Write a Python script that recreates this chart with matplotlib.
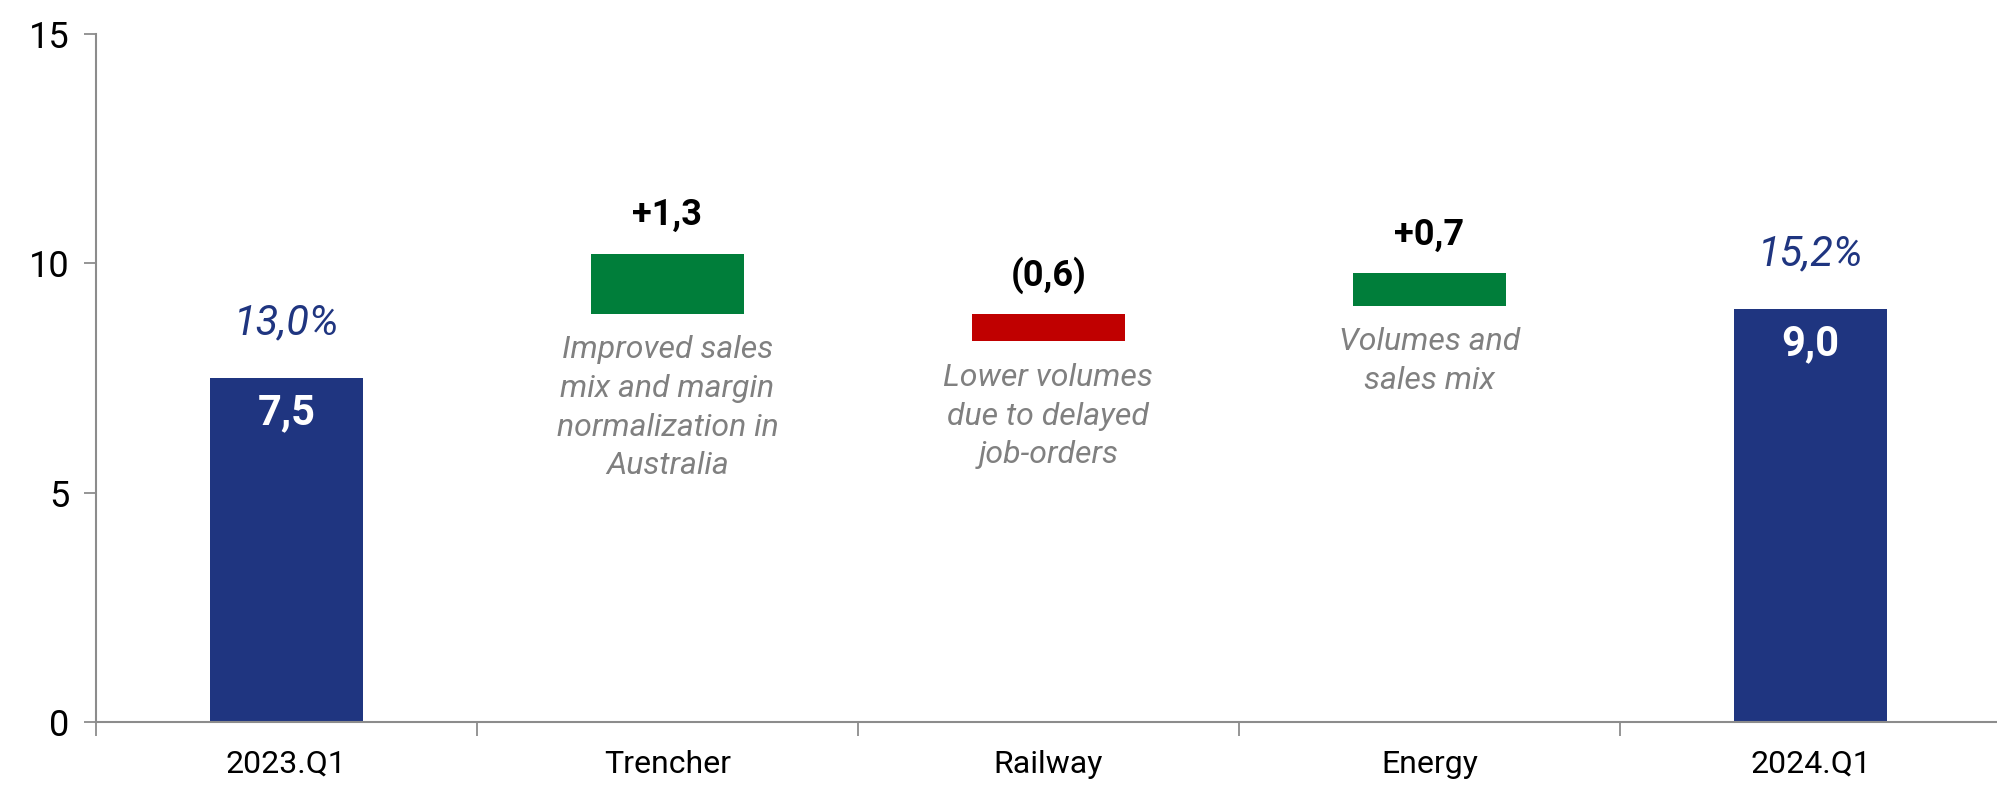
import numpy as np
import matplotlib
matplotlib.use("Agg")
import matplotlib.pyplot as plt

# EBITDA bridge, Q1 2023 -> Q1 2024
categories = ["2023.Q1", "Trencher", "Railway", "Energy", "2024.Q1"]
totals = [7.5, 9.0]
margins = ["13,0%", "15,2%"]
deltas = [1.3, -0.6, 0.7]
delta_base = [8.9, 8.9, 9.08]   # where each floating bar starts
delta_labels = ["+1,3", "(0,6)", "+0,7"]
notes = ["Improved sales\nmix and margin\nnormalization in\nAustralia",
         "Lower volumes\ndue to delayed\njob-orders",
         "Volumes and\nsales mix"]
yticks = [0, 5, 10, 15]

NAVY = "#1F3580"
GREEN = "#007E3A"
RED = "#C00000"
GREY_TXT = "#808080"
AXIS = "#8C8C8C"

plt.rcParams["font.family"] = ["Roboto", "DejaVu Sans"]

fig = plt.figure(figsize=(19.97, 7.86), dpi=100)
ax = fig.add_axes([0.048, 0.0814, 0.954, 0.8753])

x = np.arange(len(categories))
w = 0.4

# totals at both ends
tot_x = [x[0], x[-1]]
ax.bar(tot_x, totals, width=w, color=NAVY, zorder=2)
for xi, v, m in zip(tot_x, totals, margins):
    ax.text(xi, v - 0.75, f"{v:.1f}".replace(".", ","), ha="center", va="center",
            color="white", fontsize=30, fontweight="bold")
    ax.text(xi, v + 1.2, m, ha="center", va="center", color=NAVY,
            fontsize=30, style="italic")

# floating deltas
mid_x = x[1:-1]
cols = [GREEN if d > 0 else RED for d in deltas]
ax.bar(mid_x, deltas, width=w, bottom=delta_base, color=cols, zorder=2)
for xi, d, b, lab, note in zip(mid_x, deltas, delta_base, delta_labels, notes):
    top = max(b, b + d)
    low = min(b, b + d)
    ax.text(xi, top + 0.85, lab, ha="center", va="center", color="black",
            fontsize=26, fontweight="bold")
    ax.text(xi, low - 0.47, note, ha="center", va="top", color=GREY_TXT,
            fontsize=23, style="italic", linespacing=1.42)

ax.set_xlim(-0.5, len(categories) - 0.5)
ax.set_ylim(0, 15)
ax.set_yticks(yticks)
ax.set_yticklabels([str(t) for t in yticks], fontsize=26)
ax.set_xticks(x)
ax.set_xticklabels(categories, fontsize=23)
ax.set_xticks(np.arange(-0.5, len(categories), 1.0), minor=True)

ax.tick_params(axis="x", which="major", length=0, pad=20)
ax.tick_params(axis="x", which="minor", length=10, width=1.3, color=AXIS, direction="out")
ax.tick_params(axis="y", length=9, width=1.3, color=AXIS, pad=10)

for s in ["top", "right"]:
    ax.spines[s].set_visible(False)
for s in ["left", "bottom"]:
    ax.spines[s].set_color(AXIS)
    ax.spines[s].set_linewidth(1.5)

fig.savefig("out.png", dpi=100)
